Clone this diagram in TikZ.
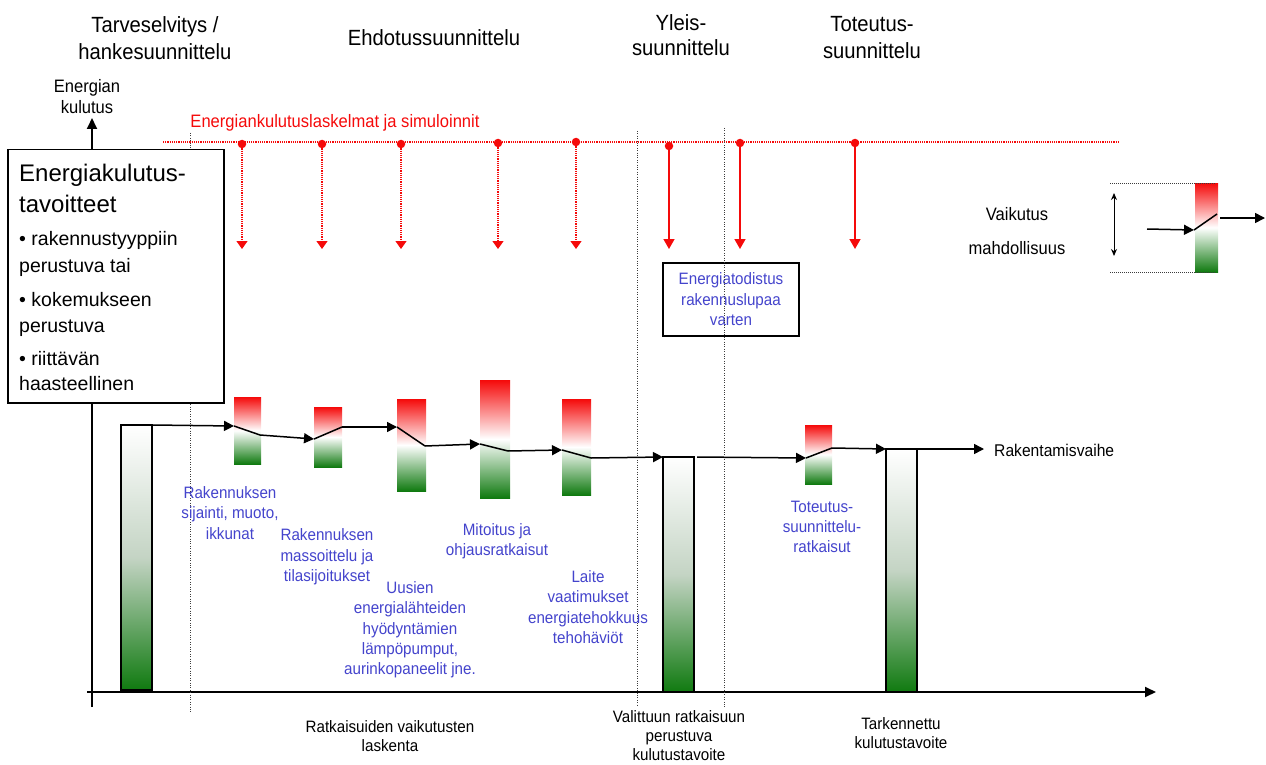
\documentclass[tikz,border=0pt]{standalone}
\usepackage{fontspec}
\setmainfont[FakeStretch=0.92]{Liberation Sans}
\newfontfamily\boxfont{Liberation Sans}
\usetikzlibrary{arrows.meta}
\definecolor{bluetxt}{RGB}{68,68,204}
\definecolor{redline}{RGB}{245,10,10}
\definecolor{gdark}{RGB}{16,122,16}
\definecolor{gmid}{RGB}{196,212,196}
\definecolor{dotgray}{RGB}{60,60,60}
\tikzset{
  ttl/.style={align=center, inner sep=0pt, font=\fontsize{22}{27}\selectfont},
  lbl/.style={align=center, inner sep=0pt, font=\fontsize{18}{21}\selectfont},
  btxt/.style={align=center, inner sep=0pt, text=bluetxt, font=\fontsize{16.5}{20.3}\selectfont},
  bottxt/.style={align=center, inner sep=0pt, font=\fontsize{16.5}{19.5}\selectfont},
  goalbig/.style={anchor=base west, inner sep=0pt, font=\boxfont\fontsize{24}{28}\selectfont},
  goalsmall/.style={anchor=base west, inner sep=0pt, font=\boxfont\fontsize{19.5}{24}\selectfont},
  bigbar/.style={draw=black, line width=1.4pt, top color=white, bottom color=gdark, middle color=gmid,
                 anchor=north west, inner sep=0pt, outer sep=0pt, minimum width=31pt},
  rgbar/.style={top color=redline, bottom color=gdark, middle color=white,
                anchor=north west, inner sep=0pt, outer sep=0pt},
  flow/.style={line width=1.5pt, -{Triangle[length=10pt,width=10pt]}},
  switchline/.style={line width=1.5pt},
  axis/.style={line width=1.8pt, -{Triangle[length=11pt,width=10pt]}},
  phase/.style={dotgray, line width=1pt, dash pattern=on 1pt off 1.4pt},
  redtrack/.style={redline, line width=1.1pt, dash pattern=on 1.2pt off 1pt},
  reddot/.style={circle, fill=redline, inner sep=0pt, minimum size=8.5pt},
  redsim/.style={redline, line width=1.2pt, dash pattern=on 1.2pt off 1pt, -{Triangle[length=8pt,width=11pt]}},
  redcalc/.style={redline, line width=1.5pt, -{Triangle[length=10pt,width=11pt]}},
  rangeline/.style={dotgray, line width=1pt, dash pattern=on 1pt off 1pt}
}
\begin{document}
\begin{tikzpicture}[x=1pt,y=-1pt]
\useasboundingbox (0,0) rectangle (1266,765);

% phase headings
\node[ttl] (h1) at (155,38) {Tarveselvitys /\\hankesuunnittelu};
\node[ttl] (h2) at (434,38) {Ehdotussuunnittelu};
\node[ttl, font=\fontsize{22}{25}\selectfont] (h3) at (681,35) {Yleis-\\suunnittelu};
\node[ttl] (h4) at (872,38) {Toteutus-\\suunnittelu};

% axes
\coordinate (yb) at (92,707);
\coordinate (yt) at (92,118);
\coordinate (xl) at (87,692);
\coordinate (xr) at (1156,692);
\draw[axis] (yb) -- (yt);
\draw[axis] (xl) -- (xr);
\node[lbl] (ylab) at (87,97) {Energian\\kulutus};

% phase boundaries
\coordinate (p1t) at (190,133); \coordinate (p1b) at (190,712);
\coordinate (p2t) at (637,131); \coordinate (p2b) at (637,705);
\coordinate (p3t) at (724,128); \coordinate (p3b) at (724,707);
\draw[phase] (p1t) -- (p1b);
\draw[phase] (p2t) -- (p2b);

% energy calculations and simulations
\node[lbl, text=redline] (simlab) at (335,123) {Energiankulutuslaskelmat ja simuloinnit};
\coordinate (rl) at (163,142);
\coordinate (rr) at (1118,142);
\draw[redtrack] (rl) -- (rr);
\foreach \i/\x/\y in {1/242/144, 2/322/144, 3/401/144, 4/498/143, 5/576/142}{
  \node[reddot] (d\i) at (\x,\y) {};
  \coordinate (t\i) at (\x,249);
  \draw[redsim] (d\i) -- (t\i);
}
\foreach \i/\x/\y in {6/669/146, 7/740/143, 8/855/143}{
  \node[reddot] (d\i) at (\x,\y) {};
  \coordinate (t\i) at (\x,249);
  \draw[redcalc] (d\i) -- (t\i);
}

% energy certificate
\node[draw=black, line width=1.3pt, minimum width=136pt, minimum height=73pt,
      btxt, font=\fontsize{16.5}{20.5}\selectfont] (cert) at (731,299.5) {Energiatodistus\\rakennuslupaa\\varten};
\draw[phase] (p3t) -- (p3b);

% target box
\node[draw=black, line width=1.5pt, fill=white, anchor=north west, inner sep=0pt,
      minimum width=216pt, minimum height=253pt] (goal) at (7,149) {};
\node[goalbig] (g1) at (19,181) {Energiakulutus-};
\node[goalbig] (g2) at (19,212) {tavoitteet};
\node[goalsmall] (g3) at (19,245) {• rakennustyyppiin};
\node[goalsmall] (g4) at (19,272) {perustuva tai};
\node[goalsmall] (g5) at (19,306) {• kokemukseen};
\node[goalsmall] (g6) at (19,332) {perustuva};
\node[goalsmall] (g7) at (19,365) {• riittävän};
\node[goalsmall] (g8) at (19,390) {haasteellinen};

% consumption targets
\node[bigbar, minimum height=265pt] (b1) at (121,425) {};
\node[bigbar, minimum height=235pt] (b2) at (663,457) {};
\node[bigbar, minimum height=243pt] (b3) at (886,449) {};

% design decisions
\node[rgbar, minimum width=27pt, minimum height=67pt] (s1) at (234,397) {};
\node[rgbar, minimum width=28pt, minimum height=60pt] (s2) at (314,407) {};
\node[rgbar, minimum width=29pt, minimum height=92pt] (s3) at (397,399) {};
\node[rgbar, minimum width=30pt, minimum height=118pt] (s4) at (480,380) {};
\node[rgbar, minimum width=29pt, minimum height=96pt] (s5) at (562,399) {};
\node[rgbar, minimum width=27pt, minimum height=59pt] (s6) at (805,425) {};

\coordinate (s1i) at (234,426); \coordinate (s1o) at (260,435);
\coordinate (s2i) at (314,439); \coordinate (s2o) at (342,427);
\coordinate (s3i) at (397,427); \coordinate (s3o) at (425,446);
\coordinate (s4i) at (480,444); \coordinate (s4o) at (508,451);
\coordinate (s5i) at (562,450); \coordinate (s5o) at (591,458);
\coordinate (s6i) at (806,458); \coordinate (s6o) at (832,448);
\coordinate (b2o) at (697,457);
\coordinate (endc) at (984,449);

\foreach \i in {1,...,6}{ \draw[switchline] (s\i i) -- (s\i o); }
\draw[flow] (b1.north east) -- (s1i);
\draw[flow] (s1o) -- (s2i);
\draw[flow] (s2o) -- (s3i);
\draw[flow] (s3o) -- (s4i);
\draw[flow] (s4o) -- (s5i);
\draw[flow] (s5o) -- (b2.north west);
\draw[flow] (b2o) -- (s6i);
\draw[flow] (s6o) -- (b3.north west);
\draw[flow] (b3.north east) -- (endc);
\node[lbl, font=\fontsize{17}{20}\selectfont, anchor=west] (build) at (994,450) {Rakentamisvaihe};

% decision labels
\node[btxt] (l1) at (230,513) {Rakennuksen\\sijainti, muoto,\\ikkunat};
\node[btxt] (l2) at (327,557) {Rakennuksen\\massoittelu ja\\tilasijoitukset};
\node[btxt] (l3) at (410,630) {Uusien\\energialähteiden\\hyödyntämien\\lämpöpumput,\\aurinkopaneelit jne.};
\node[btxt] (l4) at (497,541) {Mitoitus ja\\ohjausratkaisut};
\node[btxt] (l5) at (588,607) {Laite\\vaatimukset\\energiatehokkuus\\tehohäviöt};
\node[btxt] (l6) at (822,527) {Toteutus-\\suunnittelu-\\ratkaisut};

% bottom captions
\node[bottxt] (c1) at (390,736) {Ratkaisuiden vaikutusten\\laskenta};
\node[bottxt, font=\fontsize{16.5}{19}\selectfont] (c2) at (679,736) {Valittuun ratkaisuun\\perustuva\\kulutustavoite};
\node[bottxt] (c3) at (901,733) {Tarkennettu\\kulutustavoite};

% legend
\node[lbl, font=\fontsize{18}{34}\selectfont] (vk) at (1017,231) {Vaikutus\\mahdollisuus};
\node[rgbar, minimum width=23pt, minimum height=89pt] (lg) at (1195,183) {};
\coordinate (lt1) at (1110,183); \coordinate (lt2) at (1216,183);
\coordinate (lb1) at (1110,272); \coordinate (lb2) at (1216,272);
\draw[rangeline] (lt1) -- (lt2);
\draw[rangeline] (lb1) -- (lb2);
\coordinate (ra) at (1114,193); \coordinate (rb) at (1114,256);
\draw[line width=1pt, {Stealth[length=7pt,width=6pt]}-{Stealth[length=7pt,width=6pt]}] (ra) -- (rb);
\coordinate (lin) at (1147,229); \coordinate (lsi) at (1194,230);
\coordinate (lso) at (1217,214); \coordinate (lout) at (1220,218); \coordinate (lend) at (1265,218);
\draw[flow] (lin) -- (lsi);
\draw[switchline] (lsi) -- (lso);
\draw[flow] (lout) -- (lend);
\end{tikzpicture}
\end{document}
